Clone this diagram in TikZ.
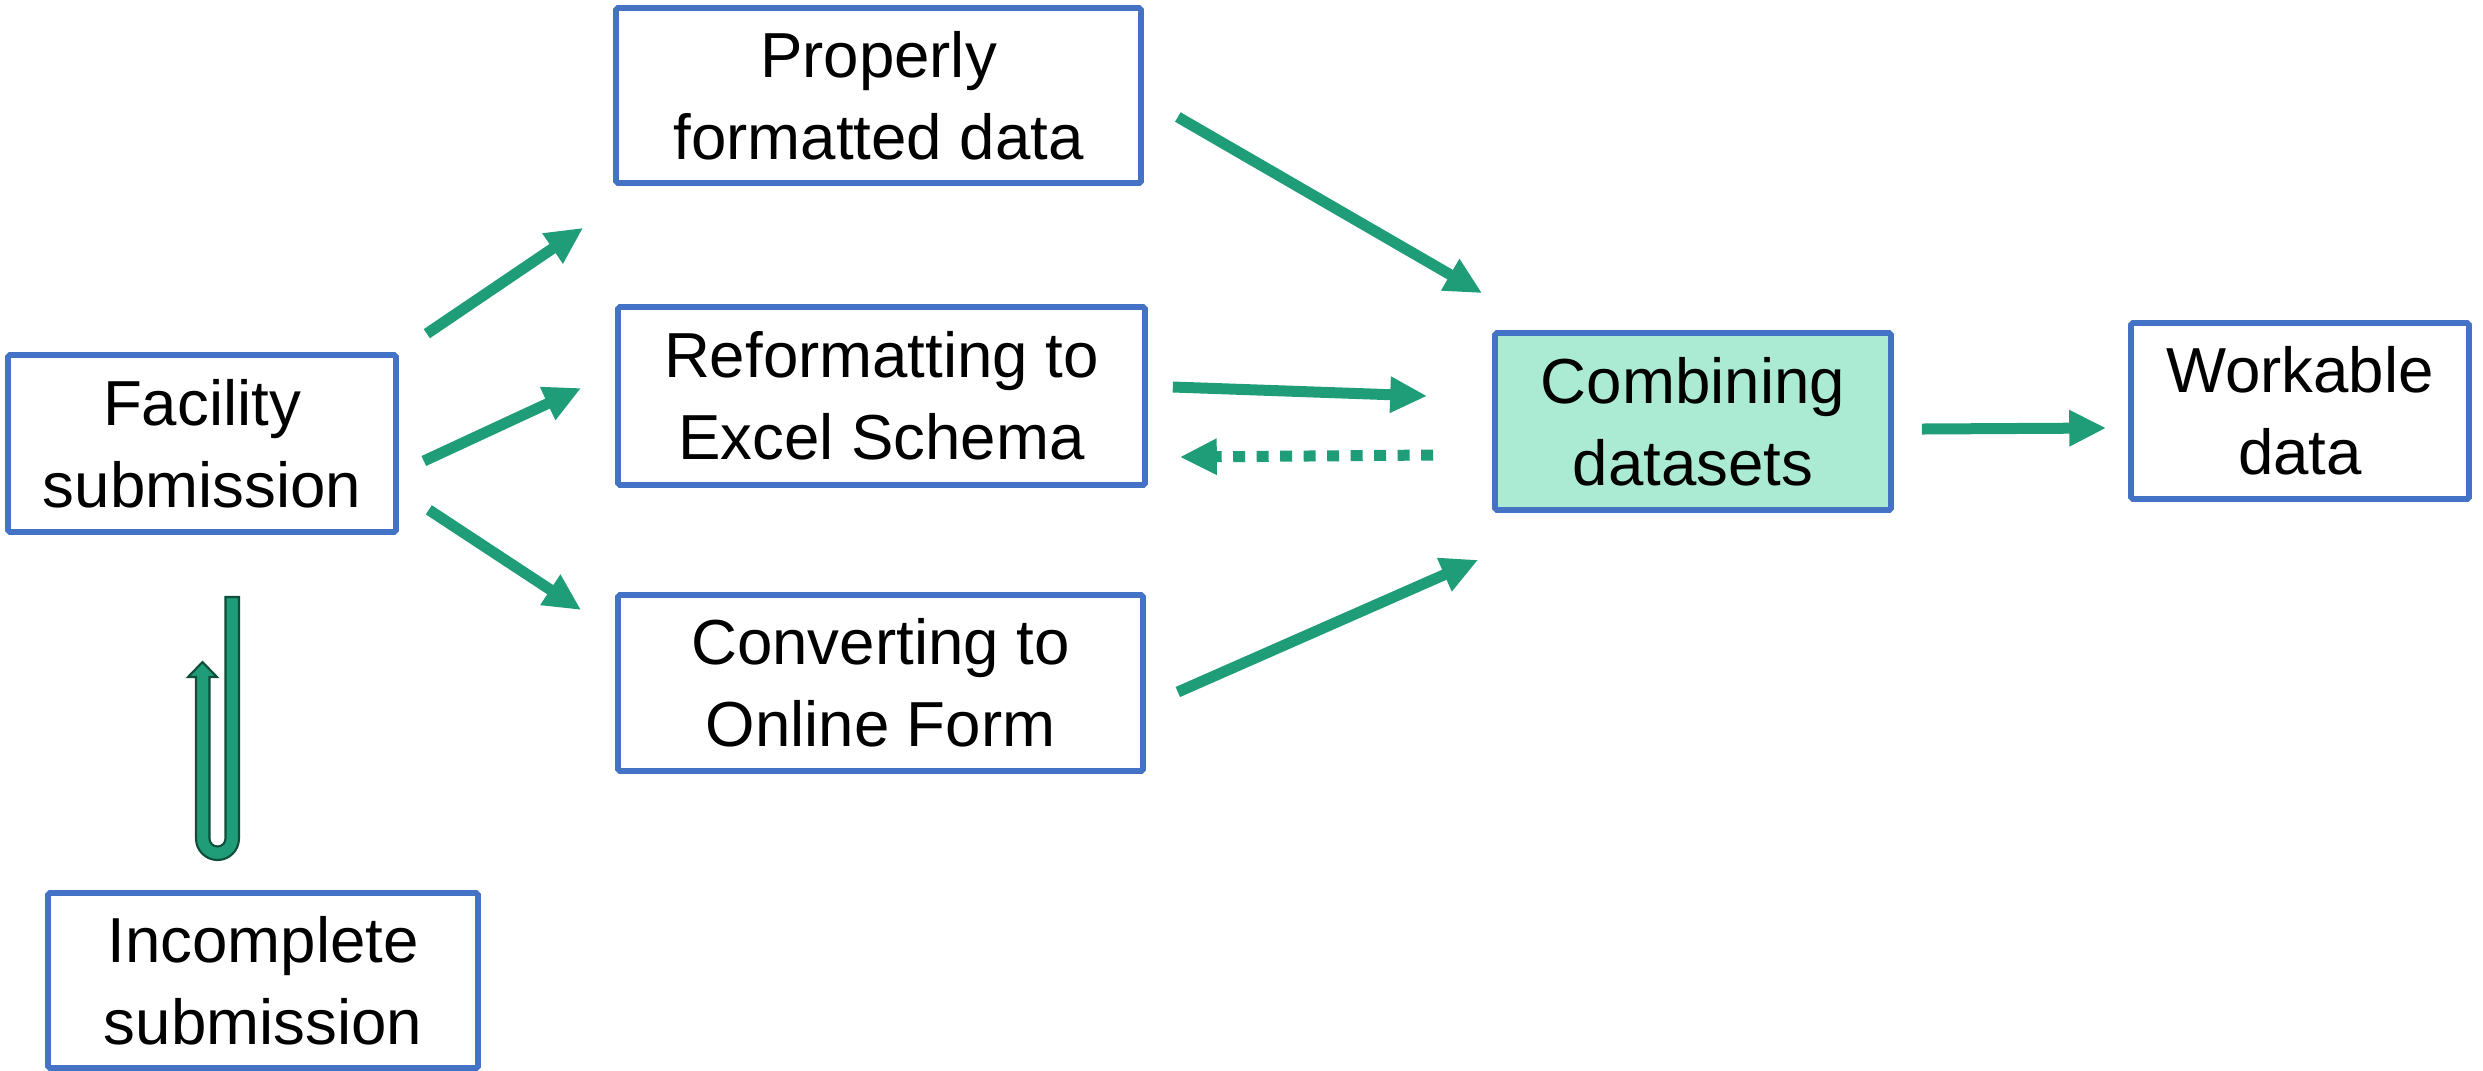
\documentclass[tikz,border=0pt]{standalone}
\usepackage{fontspec}
\setmainfont{Liberation Sans}
\usetikzlibrary{arrows.meta}
\definecolor{flowgreen}{RGB}{30,157,120}
\definecolor{darkgreen}{RGB}{14,78,58}
\definecolor{boxblue}{RGB}{68,114,196}
\definecolor{mint}{RGB}{171,235,212}
\begin{document}
\begin{tikzpicture}
	\tikzset{
		box/.style={draw=boxblue, line width=1.6pt, rounded corners=0.5pt, align=center, inner sep=0pt,
			font=\fontsize{18.1}{23.3}\selectfont},
		flow/.style={draw=flowgreen, line width=0.11cm, -{Triangle[length=0.37cm,width=0.34cm]}},
		back/.style={flow, dash pattern=on 0.12cm off 0.115cm}
	}
	\useasboundingbox (0,0) rectangle (24.83,-10.70);
	\node [box, minimum width=3.88cm, minimum height=1.77cm] (fac) at (2.02,-4.435) {Facility\\submission};
	\node [box, minimum width=5.25cm, minimum height=1.75cm] (prop) at (8.785,-0.955) {Properly\\formatted data};
	\node [box, minimum width=5.27cm, minimum height=1.78cm] (ref) at (8.815,-3.96) {Reformatting to\\Excel Schema};
	\node [box, minimum width=5.25cm, minimum height=1.76cm] (conv) at (8.805,-6.83) {Converting to\\Online Form};
	\node [box, fill=mint, minimum width=3.96cm, minimum height=1.77cm] (comb) at (16.93,-4.215) {Combining\\datasets};
	\node [box, minimum width=3.38cm, minimum height=1.76cm] (work) at (23.00,-4.11) {Workable\\data};
	\node [box, minimum width=4.30cm, minimum height=1.75cm] (inc) at (2.63,-9.805) {Incomplete\\submission};
	% split into the three routes
	\draw [flow] ([shift={(0.28,0.185)}]fac.north east) -- ([shift={(-0.30,-0.42)}]prop.south west);
	\draw [flow] ([shift={(0.25,-0.175)}]fac.east) -- ([shift={(-0.34,0.08)}]ref.west);
	\draw [flow] ([shift={(0.30,0.25)}]fac.south east) -- ([shift={(-0.34,0.73)}]conv.west);
	% into the combined set
	\draw [flow] ([shift={(0.34,-0.215)}]prop.east) -- ([shift={(-0.10,0.37)}]comb.north west);
	\draw [flow] ([shift={(0.25,0.09)}]ref.east) -- ([shift={(-0.65,0.255)}]comb.west);
	\draw [back] ([shift={(-0.59,-0.335)}]comb.west) -- ([shift={(0.32,-0.61)}]ref.east);
	\draw [flow] ([shift={(0.32,-0.09)}]conv.east) -- ([shift={(-0.14,-0.47)}]comb.south west);
	\draw [flow] ([shift={(0.28,-0.075)}]comb.east) -- ([shift={(-0.22,-0.17)}]work.west);
	% u-turn arrow
	\filldraw [fill=flowgreen, draw=darkgreen, line width=0.6pt] (2.39,-5.97) -- (2.39,-8.385)
		arc (0:-180:0.215) -- (1.96,-6.77) -- (1.88,-6.77) -- (2.025,-6.62) -- (2.17,-6.77)
		-- (2.095,-6.77) -- (2.095,-8.385) arc (180:360:0.08) -- (2.255,-5.97) -- cycle;
\end{tikzpicture}
\end{document}
